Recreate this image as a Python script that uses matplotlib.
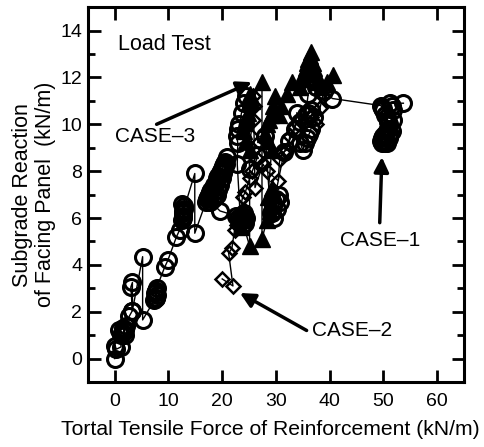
import matplotlib.pyplot as plt

plt.rcParams["font.family"] = ["Liberation Sans", "DejaVu Sans"]

# CASE-1 (open circles)
case1_x = [0.0, 0.1, 0.3, 1.2, 0.8, 1.1, 1.5, 1.8, 2.0, 1.6, 1.9, 2.2, 2.7, 3.3, 3.0, 3.3,
           3.3, 5.2, 5.2, 7.4, 7.6, 7.8, 7.6, 7.8, 7.5, 7.7, 7.6, 9.3, 9.9, 11.5, 12.1,
           12.6, 12.8, 12.7, 12.9, 12.6, 12.8, 12.7, 12.9, 14.9, 14.9, 17.0, 17.2, 17.3,
           17.6, 17.8, 18.0, 18.2, 18.5, 18.8, 19.0, 19.3, 19.6, 19.8, 20.0, 20.2, 20.4,
           20.6, 20.9, 20.7, 20.4, 20.2, 19.9, 19.6, 19.3, 19.0, 18.7, 18.5, 18.2, 17.8,
           19.6, 22.5, 23.0, 23.3, 23.7, 24.0, 24.5, 24.2, 23.8, 23.4, 22.8, 22.9, 22.7,
           23.0, 23.2, 23.6, 24.0, 24.5, 25.1, 26.5, 28.0, 29.0, 29.5, 30.0, 30.5, 30.8,
           30.2, 29.6, 29.2, 31.5, 32.5, 33.5, 33.9, 34.5, 34.5, 35.0, 35.4, 35.8, 36.2,
           36.5, 37.0, 36.5, 36.0, 35.5, 36.0, 37.5, 39.0, 40.5, 49.5, 49.8, 50.0, 50.3,
           50.6, 50.9, 51.0, 50.8, 50.6, 50.3, 50.0, 49.7, 49.5, 49.8, 50.2, 50.6, 51.0,
           51.3, 51.5, 51.8, 51.7, 51.5, 51.2, 53.7]
case1_y = [0.0, 0.55, 0.4, 0.5, 1.2, 1.0, 1.1, 1.2, 1.0, 1.3, 1.2, 1.4, 1.8, 2.05, 3.05, 3.25,
           2.05, 4.35, 1.65, 2.5, 2.6, 2.7, 2.9, 3.0, 2.8, 2.6, 2.9, 3.9, 4.2, 5.2, 5.5,
           5.9, 6.1, 6.3, 6.5, 6.6, 6.2, 6.0, 6.4, 7.9, 5.35, 6.7, 6.8, 6.9,
           7.0, 7.1, 7.2, 7.3, 7.4, 7.5, 7.7, 7.8, 7.9, 8.0, 8.1, 8.2, 8.3,
           8.4, 8.6, 8.3, 8.1, 7.9, 7.7, 7.4, 7.2, 7.0, 6.9, 6.9, 6.8, 6.7,
           6.3, 6.1, 6.0, 5.9, 6.1, 6.2, 6.0, 5.8, 5.7, 5.9, 8.3, 9.2, 9.5,
           9.8, 10.0, 10.5, 10.9, 11.2, 8.1, 8.7, 9.5, 6.2, 6.5, 6.8, 7.0, 6.7,
           6.4, 6.0, 6.2, 8.8, 9.3, 9.8, 10.5, 10.1, 9.2, 8.9, 9.2, 9.4, 9.6,
           9.8, 10.3, 10.6, 10.5, 10.4, 11.3, 11.6, 11.4, 11.1, 10.8, 10.7, 10.6, 10.4,
           10.3, 10.1, 10.0, 9.8, 9.7, 9.6, 9.5, 9.4, 9.3, 9.2, 9.2, 9.2, 9.4,
           9.6, 9.7, 10.2, 10.6, 10.8, 10.9, 10.9]

# CASE-2 (open diamonds)
case2_x = [20.0, 22.0, 21.2, 21.8, 22.3, 22.8, 23.8, 24.3, 25.1, 25.6, 26.4, 25.7, 25.3,
           25.7, 26.0, 25.8, 26.1, 27.6, 28.3, 30.4, 30.7, 31.3, 32.0, 32.6, 33.5, 34.5,
           35.5, 36.5, 37.5, 38.2, 38.7, 39.5]
case2_y = [3.4, 3.1, 4.5, 4.7, 5.5, 5.7, 6.9, 7.1, 7.7, 8.0, 8.5, 8.9, 9.5,
           10.2, 10.8, 11.2, 7.3, 8.3, 8.0, 7.6, 8.5, 8.8, 8.9, 9.5, 9.9, 10.2,
           10.5, 10.3, 10.0, 10.7, 11.2, 11.4]

# CASE-3 (filled triangles)
case3_x = [23.5, 24.0, 24.5, 24.0, 23.6, 25.1, 25.1, 24.5, 24.0, 24.3, 24.6, 24.8, 25.0,
           25.1, 25.5, 27.4, 27.4, 28.3, 28.8, 29.3, 29.8, 29.2, 28.5, 29.2, 28.5, 28.0,
           28.4, 28.7, 29.0, 29.5, 29.8, 30.5, 31.0, 32.0, 33.0, 34.5, 35.0, 35.3, 35.5,
           35.8, 36.0, 36.3, 36.5, 36.8, 37.0, 37.2, 37.5, 38.0, 38.3, 39.5, 40.6]
case3_y = [5.6, 5.9, 6.2, 6.4, 6.0, 4.8, 8.9, 9.3, 9.7, 10.1, 10.3, 10.5, 10.9,
           11.3, 11.0, 11.8, 5.1, 5.9, 6.3, 6.6, 7.0, 7.3, 6.9, 8.9, 9.3, 9.6,
           10.0, 10.2, 10.4, 10.8, 11.2, 10.4, 10.8, 11.3, 11.8, 11.6, 12.0, 12.2, 12.4,
           12.6, 12.8, 12.9, 13.1, 12.6, 12.4, 12.2, 11.8, 11.9, 11.6, 11.8, 12.1]

x_ticks = [0, 10, 20, 30, 40, 50, 60]
y_ticks = [0, 2, 4, 6, 8, 10, 12, 14]

fig = plt.figure(figsize=(4.85, 4.47), dpi=100)
ax = fig.add_axes([0.181, 0.1454, 0.776, 0.8386])

ax.plot(case1_x, case1_y, "-o", color="k", lw=1.0, ms=11.5, mfc="none", mec="k", mew=2.2)
ax.plot(case2_x, case2_y, "-D", color="k", lw=1.0, ms=7.5, mfc="none", mec="k", mew=1.8)
ax.plot(case3_x, case3_y, "-^", color="k", lw=1.0, ms=12, mfc="k", mec="k", mew=1.0)

ax.set_xlim(-5, 65)
ax.set_ylim(-1, 15)
ax.set_xticks(x_ticks)
ax.set_yticks(y_ticks)
ax.set_yticks(range(-1, 16, 2), minor=True)
ax.tick_params(axis="both", which="both", direction="in", top=True, right=True,
               labelsize=14, width=2)
ax.tick_params(which="major", length=9)
ax.tick_params(which="minor", length=5)
ax.tick_params(axis="x", pad=8)
ax.tick_params(axis="y", pad=4)
for s in ax.spines.values():
    s.set_linewidth(2.2)

ax.set_xlabel("Tortal Tensile Force of Reinforcement (kN/m)", fontsize=15.2, labelpad=7,
              x=0.485)
ax.set_ylabel("Subgrade Reaction\nof Facing Panel  (kN/m)", fontsize=15.5, labelpad=3,
              linespacing=1.15)

ax.text(0.6, 13.4, "Load Test", fontsize=15.5, va="center", ha="left")

arrow = dict(arrowstyle="-|>", color="k", lw=2.5, mutation_scale=22, shrinkA=0, shrinkB=0)
ax.annotate("", xy=(25.5, 11.8), xytext=(7.8, 10.0), arrowprops=arrow)
ax.text(0.0, 9.46, "CASE\u20133", fontsize=15, va="center", ha="left")
ax.annotate("", xy=(49.7, 8.6), xytext=(49.3, 5.8), arrowprops=arrow)
ax.text(49.3, 5.05, "CASE\u20131", fontsize=15, va="center", ha="center")
ax.annotate("", xy=(23.3, 2.8), xytext=(35.7, 1.2), arrowprops=arrow)
ax.text(36.7, 1.2, "CASE\u20132", fontsize=15, va="center", ha="left")

fig.savefig("out.png", dpi=100)
